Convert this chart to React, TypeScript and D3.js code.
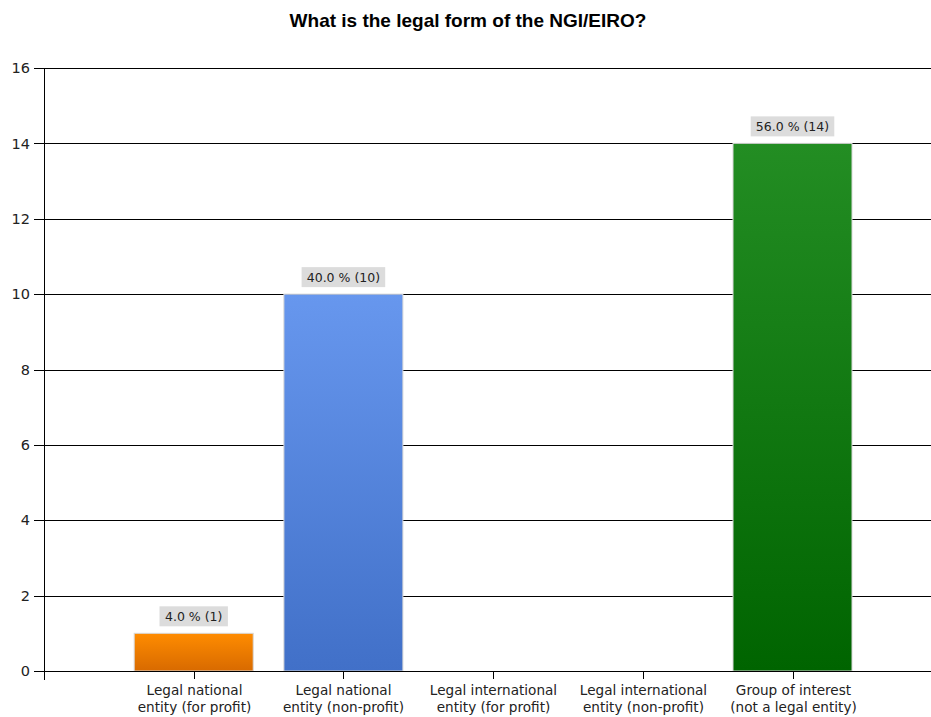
import * as d3 from 'd3'
import { useEffect, useRef } from 'react'

const title = 'What is the legal form of the NGI/EIRO?'
const categories = [
  ['Legal national', 'entity (for profit)'],
  ['Legal national', 'entity (non-profit)'],
  ['Legal international', 'entity (for profit)'],
  ['Legal international', 'entity (non-profit)'],
  ['Group of interest', '(not a legal entity)'],
]
const counts = [1, 10, 0, 0, 14]
const percents = ['4.0', '40.0', '0.0', '0.0', '56.0']
const yTicks = [0, 2, 4, 6, 8, 10, 12, 14, 16]
const barColors = [
  ['#ff8c00', '#d86a00'],
  ['#6797ee', '#4170c8'],
  ['#7fa0d8', '#5a7fc0'],
  ['#a0a0a0', '#808080'],
  ['#238d23', '#006400'],
]

export default function App() {
  const svgRef = useRef(null)
  const width = 931
  const height = 717

  useEffect(() => {
    const svg = d3.select(svgRef.current)
    svg.selectAll('*').remove()

    const left = 44
    const top = 68
    const bottom = 671

    const keys = categories.map((_, i) => String(i))
    const xScale = d3.scalePoint<string>()
      .domain(keys)
      .range([left, left + 6 * 149.7])
      .padding(1)
    const barW = 119

    const yScale = d3.scaleLinear()
      .domain([0, 16])
      .range([bottom, top])

    const defs = svg.append('defs')
    barColors.forEach((c, i) => {
      const g = defs.append('linearGradient')
        .attr('id', `grad${i}`)
        .attr('x1', 0).attr('y1', 0).attr('x2', 0).attr('y2', 1)
      g.append('stop').attr('offset', '0%').attr('stop-color', c[0])
      g.append('stop').attr('offset', '100%').attr('stop-color', c[1])
    })

    svg.append('text')
      .attr('x', 468)
      .attr('y', 27)
      .attr('text-anchor', 'middle')
      .style('font-family', '"Liberation Sans", Arial, sans-serif')
      .style('font-weight', 'bold')
      .style('font-size', '19px')
      .text(title)

    // grid lines
    svg.append('g')
      .selectAll('line')
      .data(yTicks)
      .enter()
      .append('line')
      .attr('x1', left - 10)
      .attr('x2', width)
      .attr('y1', d => Math.round(yScale(d)) + 0.5)
      .attr('y2', d => Math.round(yScale(d)) + 0.5)
      .style('stroke', '#000')
      .style('stroke-width', 1)

    svg.append('g')
      .selectAll('text')
      .data(yTicks)
      .enter()
      .append('text')
      .attr('x', left - 14)
      .attr('y', d => yScale(d))
      .attr('dy', '0.36em')
      .attr('text-anchor', 'end')
      .style('font-family', '"DejaVu Sans", Tahoma, sans-serif')
      .style('font-size', '14.5px')
      .style('fill', '#222')
      .text(d => d)

    // bars with value labels
    counts.forEach((v, i) => {
      if (v <= 0) return
      const cx = xScale(String(i))!
      svg.append('rect')
        .attr('x', cx - barW / 2)
        .attr('y', yScale(v))
        .attr('width', barW)
        .attr('height', yScale(0) - yScale(v))
        .style('fill', `url(#grad${i})`)
        .style('stroke', '#d8d8d8')
        .style('stroke-width', 1)

      const label = `${percents[i]} % (${v})`
      const boxW = label.length * 7.6
      svg.append('rect')
        .attr('x', cx - boxW / 2)
        .attr('y', yScale(v) - 27)
        .attr('width', boxW)
        .attr('height', 20)
        .style('fill', '#dcdcdc')
      svg.append('text')
        .attr('x', cx)
        .attr('y', yScale(v) - 17)
        .attr('dy', '0.36em')
        .attr('text-anchor', 'middle')
        .style('font-family', '"DejaVu Sans", Tahoma, sans-serif')
        .style('font-size', '12.5px')
        .style('fill', '#222')
        .text(label)
    })

    // axes lines
    svg.append('line')
      .attr('x1', left + 0.5).attr('x2', left + 0.5)
      .attr('y1', top).attr('y2', bottom + 9)
      .style('stroke', '#000')
    svg.append('line')
      .attr('x1', left).attr('x2', width)
      .attr('y1', bottom + 0.5).attr('y2', bottom + 0.5)
      .style('stroke', '#000')

    const xg = svg.append('g')
    categories.forEach((lines, i) => {
      const cx = Math.round(xScale(String(i))!) + 0.5
      xg.append('line')
        .attr('x1', cx).attr('x2', cx)
        .attr('y1', bottom).attr('y2', bottom + 8)
        .style('stroke', '#000')
      const t = xg.append('text')
        .attr('x', cx)
        .attr('text-anchor', 'middle')
        .style('font-family', '"DejaVu Sans", Tahoma, sans-serif')
        .style('font-size', '13.6px')
        .style('fill', '#222')
      lines.forEach((ln, j) => {
        t.append('tspan')
          .attr('x', cx)
          .attr('y', 695 + j * 17)
          .text(ln)
      })
    })
  }, [])

  return (
    <svg ref={svgRef} width={width} height={height}
      style={{ position: 'absolute', left: 0, top: 0, background: '#fff' }} />
  )
}
